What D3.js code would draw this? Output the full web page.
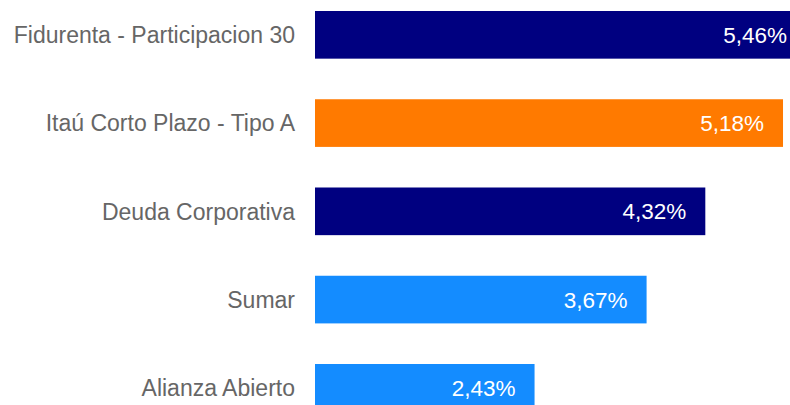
<!DOCTYPE html>
<html>
<head>
<meta charset="utf-8">
<script src="https://cdn.jsdelivr.net/npm/d3@7"></script>
<style>
  body { margin: 0; background: #fff; overflow: hidden; }
  svg { display: block; font-family: "Liberation Sans", Arial, sans-serif; }
</style>
</head>
<body>
<svg id="chart"></svg>
<script>
// fund names, yields (%) and bar colours
const funds = ['Fidurenta - Participacion 30', 'Itaú Corto Plazo - Tipo A', 'Deuda Corporativa', 'Sumar', 'Alianza Abierto'];
const yields = [5.46, 5.18, 4.32, 3.67, 2.43];
const colors = ['#000080', '#ff7a00', '#000080', '#148cff', '#148cff'];

const width = 790, height = 405;
const svg = d3.select('#chart').attr('width', width).attr('height', height);

const data = funds.map((f, i) => ({name: f, value: yields[i], color: colors[i]}));

const step = 88.25;
const xscale = d3.scaleLinear().domain([0, 6]).range([315, 315 + 90.35 * 6]);
const yscale = d3.scaleBand()
    .domain(funds)
    .range([11 - 0.23 * step, 11 - 0.23 * step + 5 * step])
    .paddingInner(0.46)
    .paddingOuter(0.23);

const locale = d3.formatLocale({decimal: ',', thousands: '.', grouping: [3], currency: ['', '']});
const fmt = locale.format('.2f');

svg.selectAll('.bar')
    .data(data)
    .join('rect')
    .attr('class', 'bar')
    .attr('x', xscale(0))
    .attr('y', d => yscale(d.name))
    .attr('width', d => xscale(d.value) - xscale(0))
    .attr('height', yscale.bandwidth())
    .attr('fill', d => d.color);

svg.selectAll('.val')
    .data(data)
    .join('text')
    .attr('class', 'val')
    .attr('x', d => Math.min(xscale(d.value) - 19, width - 3))
    .attr('y', d => yscale(d.name) + yscale.bandwidth() / 2)
    .attr('dy', '0.36em')
    .attr('text-anchor', 'end')
    .attr('fill', '#fff')
    .style('font-size', '22.5px')
    .text(d => fmt(d.value) + '%');

svg.selectAll('.lbl')
    .data(data)
    .join('text')
    .attr('class', 'lbl')
    .attr('x', xscale(0) - 20)
    .attr('y', d => yscale(d.name) + yscale.bandwidth() / 2)
    .attr('dy', '0.36em')
    .attr('text-anchor', 'end')
    .attr('fill', '#666')
    .style('font-size', '23px')
    .text(d => d.name);
</script>
</body>
</html>
